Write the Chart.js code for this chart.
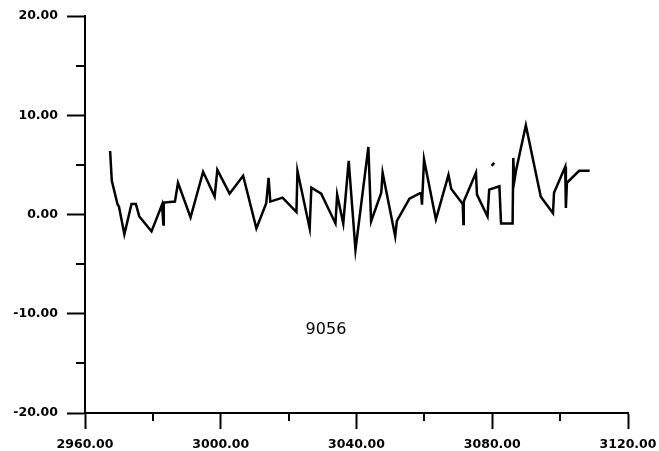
<!DOCTYPE html>
<html>
<head>
<meta charset="utf-8">
<script src="https://cdn.jsdelivr.net/npm/chart.js@4"></script>
<style>
  html, body { margin: 0; padding: 0; background: #fff; }
  #c { display: block; }
</style>
</head>
<body>
<canvas id="c" width="659" height="451"></canvas>
<script>
// Series (x = position, y = value)
const xValues = [2967.4, 2967.9, 2969.6, 2970.0, 2971.6, 2973.7, 2975.0, 2976.0, 2979.6, 2982.7,
  2983.1, 2983.2, 2986.5, 2987.4, 2991.1, 2994.8, 2998.2, 2999.0, 3002.6, 3006.6,
  3010.5, 3013.4, 3014.1, 3014.6, 3018.2, 3022.3, 3022.6, 3026.2, 3026.7, 3029.6,
  3033.8, 3034.3, 3036.1, 3037.7, 3039.7, 3043.5, 3044.3, 3047.3, 3047.7, 3051.4,
  3051.9, 3055.6, 3059.0, 3059.3, 3059.9, 3063.4, 3067.1, 3067.9, 3071.3, 3071.5,
  3071.6, 3075.2, 3075.5, 3078.6, 3079.1, 3082.1, 3082.6, 3086.0, 3086.2, 3086.5,
  3087.0, 3089.9, 3094.3, 3097.9, 3098.2, 3101.5, 3101.7, 3102.0, 3105.6, 3108.7];
const yValues = [6.4, 3.4, 1.0, 0.8, -2.0, 1.05, 1.05, -0.2, -1.7, 1.0,
  -1.0, 1.2, 1.3, 3.2, -0.3, 4.3, 1.8, 4.5, 2.1, 3.9,
  -1.4, 1.15, 3.7, 1.3, 1.7, 0.25, 4.4, -1.4, 2.7, 2.1,
  -0.9, 2.0, -0.9, 5.4, -3.55, 6.8, -0.7, 2.2, 4.2, -2.2,
  -0.65, 1.6, 2.2, 1.0, 5.55, -0.5, 4.0, 2.6, 1.05, -0.95,
  1.3, 4.2, 2.0, -0.2, 2.5, 2.85, -0.9, -0.9, 5.7, 3.35,
  4.4, 9.0, 1.8, 0.13, 2.2, 4.8, 0.65, 3.2, 4.4, 4.4];
// Small detached fragment near 3080
const fragmentX = [3079.8, 3080.6];
const fragmentY = [4.9, 5.2];

// Axis ticks
const xMajorTicks = [2960, 3000, 3040, 3080, 3120];
const xMinorTicks = [2980, 3020, 3060, 3100];
const yMajorTicks = [-20, -10, 0, 10, 20];
const yMinorTicks = [-15, -5, 5, 15];
const annotationText = '9056';
const annotationAt = { x: 3031, y: -11.6 };

const n = Math.min(xValues.length, yValues.length);
const mainData = [];
for (let i = 0; i < n; i++) mainData.push({ x: xValues[i], y: yValues[i] });
const fragData = fragmentX.map((x, i) => ({ x, y: fragmentY[i] }));

const tickFont = { family: "'DejaVu Sans', sans-serif", size: 12.5, weight: 'bold' };

const extras = {
  id: 'extras',
  afterDraw(chart) {
    const { ctx, scales: { x, y }, chartArea } = chart;
    ctx.save();
    ctx.strokeStyle = '#000';
    ctx.lineWidth = 2;
    ctx.beginPath();
    xMinorTicks.forEach(v => {
      const px = Math.round(x.getPixelForValue(v));
      ctx.moveTo(px, chartArea.bottom);
      ctx.lineTo(px, chartArea.bottom + 8);
    });
    yMinorTicks.forEach(v => {
      const py = Math.round(y.getPixelForValue(v));
      ctx.moveTo(chartArea.left - 9, py);
      ctx.lineTo(chartArea.left, py);
    });
    ctx.stroke();
    ctx.fillStyle = '#000';
    ctx.font = "16px 'DejaVu Sans', sans-serif";
    ctx.textAlign = 'center';
    ctx.textBaseline = 'middle';
    ctx.fillText(annotationText, x.getPixelForValue(annotationAt.x), y.getPixelForValue(annotationAt.y));
    ctx.restore();
  }
};

new Chart(document.getElementById('c'), {
  type: 'line',
  data: {
    datasets: [
      { data: mainData, borderColor: '#000', borderWidth: 2.5, pointRadius: 0, tension: 0, fill: false },
      { data: fragData, borderColor: '#000', borderWidth: 2.5, pointRadius: 0, tension: 0, fill: false }
    ]
  },
  options: {
    responsive: false,
    devicePixelRatio: 1,
    animation: false,
    layout: { padding: { top: 16, right: 31, left: 0, bottom: 0 } },
    plugins: { legend: { display: false }, tooltip: { enabled: false } },
    scales: {
      x: {
        type: 'linear',
        min: xMajorTicks[0],
        max: xMajorTicks[xMajorTicks.length - 1],
        afterBuildTicks: s => { s.ticks = xMajorTicks.map(v => ({ value: v })); },
        afterFit: s => { s.height = 38; s.paddingLeft = 0; s.paddingRight = 0; },
        ticks: {
          color: '#000', font: tickFont, padding: 8, maxRotation: 0, autoSkip: false,
          callback: v => Number(v).toFixed(2)
        },
        grid: { drawOnChartArea: false, drawTicks: true, tickLength: 16, tickColor: '#000', tickWidth: 2 },
        border: { display: true, color: '#000', width: 2 }
      },
      y: {
        type: 'linear',
        min: yMajorTicks[0],
        max: yMajorTicks[yMajorTicks.length - 1],
        afterBuildTicks: s => { s.ticks = yMajorTicks.map(v => ({ value: v })); },
        afterFit: s => { s.width = 85; s.paddingTop = 0; s.paddingBottom = 0; },
        ticks: {
          color: '#000', font: tickFont, padding: 9, autoSkip: false,
          callback: v => Number(v).toFixed(2)
        },
        grid: { drawOnChartArea: false, drawTicks: true, tickLength: 18, tickColor: '#000', tickWidth: 2 },
        border: { display: true, color: '#000', width: 2 }
      }
    }
  },
  plugins: [extras]
});
</script>
</body>
</html>
